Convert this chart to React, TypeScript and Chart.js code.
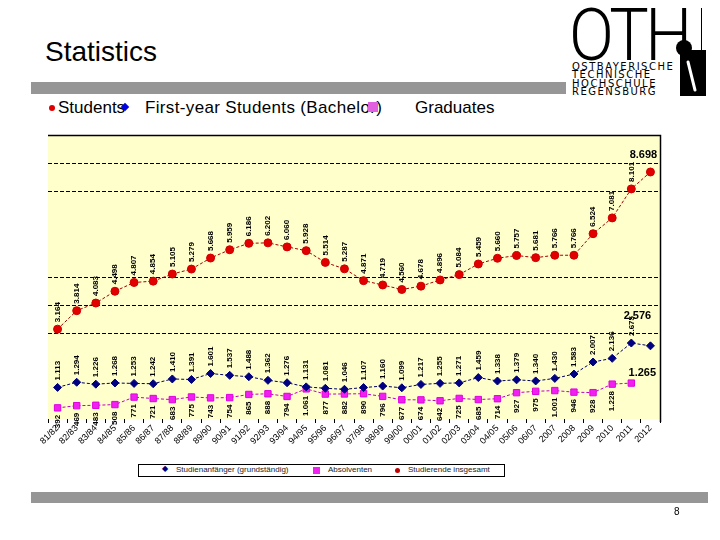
import React, { useEffect, useRef } from "react";
import { Chart, registerables } from "chart.js";
Chart.register(...registerables);

const categories = ["81/82","82/83","83/84","84/85","85/86","86/87","87/88","88/89","89/90","90/91","91/92","92/93","93/94","94/95","95/96","96/97","97/98","98/99","99/00","00/01","01/02","02/03","03/04","04/05","05/06","06/07","2007","2008","2009","2010","2011","2012"];

const studentsTotal = [3164,3814,4083,4498,4807,4854,5105,5279,5668,5959,6186,6202,6060,5928,5514,5287,4871,4719,4560,4678,4896,5084,5459,5660,5757,5681,5766,5766,6524,7081,8101,8698];
const firstYear = [1113,1294,1226,1268,1253,1242,1410,1391,1601,1537,1488,1362,1276,1131,1081,1046,1107,1160,1099,1217,1255,1271,1459,1338,1379,1340,1430,1583,2007,2136,2675,2576];
const graduates = [392,469,483,508,771,721,683,775,743,754,865,888,794,1061,877,882,890,796,677,674,642,725,685,714,927,975,1001,946,928,1228,1265,null];

const seriesNames = ["Studienanfänger (grundständig)", "Absolventen", "Studierende insgesamt"];
const hiddenGridValues = [0, 1000, 2000, 6000, 7000, 10000];

const FONT = "Arial, 'Liberation Sans', sans-serif";

function fmt(n: number): string {
  if (n >= 1000) {
    const r = n % 1000;
    return Math.floor(n / 1000) + "." + String(r).padStart(3, "0");
  }
  return String(n);
}

const framePlugin = {
  id: "frame",
  beforeDraw(chart: any) {
    const { ctx, chartArea: a } = chart;
    ctx.save();
    ctx.fillStyle = "#FFFFCC";
    ctx.fillRect(a.left, a.top, a.right - a.left, a.bottom - a.top);
    ctx.restore();
  },
  beforeDatasetsDraw(chart: any) {
    const { ctx, chartArea: a } = chart;
    ctx.save();
    ctx.strokeStyle = "#000";
    ctx.lineWidth = 1.5;
    ctx.beginPath();
    ctx.moveTo(a.left, a.top + 0.5);
    ctx.lineTo(a.right + 0.5, a.top + 0.5);
    ctx.lineTo(a.right + 0.5, a.bottom + 3);
    ctx.stroke();
    ctx.restore();
  },
};

const labelPlugin = {
  id: "valueLabels",
  afterDatasetsDraw(chart: any) {
    const { ctx } = chart;
    chart.data.datasets.forEach((ds: any, i: number) => {
      const meta = chart.getDatasetMeta(i);
      const pos = ds._labelPos;
      const last = ds.data.reduce((acc: number, v: any, idx: number) => (v != null ? idx : acc), -1);
      meta.data.forEach((el: any, j: number) => {
        const v = ds.data[j];
        if (v == null) return;
        ctx.save();
        ctx.fillStyle = "#000";
        if (j === last) {
          ctx.font = "bold 11px " + FONT;
          ctx.textAlign = "center";
          ctx.textBaseline = "middle";
          ctx.fillText(fmt(v), el.x + ds._lastDx, el.y + ds._lastDy);
        } else {
          ctx.font = "bold 8px " + FONT;
          ctx.textBaseline = "middle";
          if (pos === "above") {
            ctx.translate(el.x, el.y - 7);
            ctx.rotate(-Math.PI / 2);
            ctx.textAlign = "left";
          } else {
            ctx.translate(el.x, el.y + 7);
            ctx.rotate(-Math.PI / 2);
            ctx.textAlign = "right";
          }
          ctx.fillText(fmt(v), 0, 0);
        }
        ctx.restore();
      });
    });
  },
};

function ChartCanvas() {
  const ref = useRef<HTMLCanvasElement>(null);
  useEffect(() => {
    if (!ref.current) return;
    const chart = new Chart(ref.current, {
      type: "line",
      data: {
        labels: categories,
        datasets: [
          {
            label: seriesNames[2],
            data: studentsTotal,
            borderColor: "#A00000",
            backgroundColor: "#E00000",
            pointBackgroundColor: "#E00000",
            pointBorderColor: "#D00000",
            pointStyle: "circle",
            pointRadius: 4,
            borderWidth: 1,
            borderDash: [3, 2],
            _labelPos: "above",
            _lastDx: -7,
            _lastDy: -17,
          } as any,
          {
            label: seriesNames[0],
            data: firstYear,
            borderColor: "#000060",
            backgroundColor: "#000080",
            pointBackgroundColor: "#000080",
            pointBorderColor: "#000080",
            pointStyle: "rectRot",
            pointRadius: 4,
            borderWidth: 1,
            borderDash: [3, 2],
            _labelPos: "above",
            _lastDx: -13,
            _lastDy: -30,
          } as any,
          {
            label: seriesNames[1],
            data: graduates,
            borderColor: "#C000C0",
            backgroundColor: "#F020F0",
            pointBackgroundColor: "#F020F0",
            pointBorderColor: "#E000E0",
            pointStyle: "rect",
            pointRadius: 4.5,
            borderWidth: 1,
            borderDash: [3, 2],
            _labelPos: "below",
            _lastDx: 11,
            _lastDy: -10,
          } as any,
        ],
      },
      options: {
        responsive: false,
        animation: false,
        layout: { padding: { left: 48, right: 60, top: 135, bottom: 76 } },
        plugins: { legend: { display: false }, tooltip: { enabled: false } },
        scales: {
          x: {
            offset: true,
            grid: { display: true, drawOnChartArea: false, offset: true, tickLength: 4, color: "#000" },
            border: { display: false },
            ticks: {
              minRotation: 45,
              maxRotation: 45,
              autoSkip: false,
              padding: 0,
              color: "#000",
              font: { family: FONT, size: 9 },
            },
            afterFit(s: any) { s.height = 45; },
          },
          y: {
            min: 0,
            max: 10000,
            ticks: { display: false, stepSize: 1000 },
            border: { display: false, dash: [4, 2] },
            grid: {
              drawTicks: false,
              lineWidth: 1,
              color: (c: any) => (hiddenGridValues.includes(c.tick?.value) ? "rgba(0,0,0,0)" : "#000"),
            },
            afterFit(s: any) { s.width = 0; },
          },
        },
      },
      plugins: [framePlugin, labelPlugin],
    } as any);
    return () => chart.destroy();
  }, []);
  return (
    <canvas
      ref={ref}
      width={720}
      height={540}
      style={{ position: "absolute", left: 0, top: 0, width: 720, height: 540 }}
    />
  );
}

export default function App() {
  const abs = (s: React.CSSProperties): React.CSSProperties => ({ position: "absolute", ...s });
  return (
    <div style={abs({ left: 0, top: 0, width: 720, height: 540, background: "#fff", overflow: "hidden", fontFamily: FONT })}>
      <div style={abs({ left: 45, top: 36, fontSize: 28, color: "#000", lineHeight: "32px" })}>Statistics</div>
      <div style={abs({ left: 31, top: 82, width: 535, height: 12, background: "#969696" })} />

      <div style={abs({ left: 49, top: 105, width: 6, height: 6, borderRadius: 3, background: "#E00000" })} />
      <div style={abs({ left: 58, top: 98, fontSize: 17, lineHeight: "20px", whiteSpace: "pre" })}>Students</div>
      <div style={abs({ left: 122, top: 104, width: 6, height: 6, background: "#0000E0", transform: "rotate(45deg)" })} />
      <div style={abs({ left: 145, top: 98, fontSize: 17, letterSpacing: 0.35, lineHeight: "20px", whiteSpace: "pre" })}>First-year Students (Bachelor)</div>
      <div style={abs({ left: 368, top: 102, width: 10, height: 10, background: "#E060E0" })} />
      <div style={abs({ left: 415, top: 98, fontSize: 17, lineHeight: "20px", whiteSpace: "pre" })}>Graduates</div>

      {/* logo */}
      <div style={abs({ left: 569, top: 0, fontSize: 72, fontWeight: 300, fontFamily: "Roboto, 'DejaVu Sans', sans-serif", letterSpacing: -4, lineHeight: "72px", transform: "scaleX(0.92)", transformOrigin: "left top" })}>OTH</div>
      <div style={abs({ left: 572, top: 63, fontSize: 10, lineHeight: "8.4px", letterSpacing: 1.5, fontFamily: "'DejaVu Sans', sans-serif" })}>
        <div>OSTBAYERISCHE</div>
        <div>TECHNISCHE</div>
        <div>HOCHSCHULE</div>
        <div>REGENSBURG</div>
      </div>
      <div style={abs({ left: 701, top: 8, width: 1, height: 44, background: "#000" })} />
      <div style={abs({ left: 680, top: 50, width: 26, height: 46, background: "#000" })} />
      <div style={abs({ left: 676, top: 40, width: 16, height: 16, borderRadius: 8, background: "#000" })} />
      <div style={abs({ left: 690, top: 60, width: 3, height: 32, background: "#fff", transform: "rotate(-14deg)", borderRadius: 2 })} />

      <ChartCanvas />

      {/* chart legend */}
      <div style={abs({ left: 138, top: 464, width: 365, height: 11, border: "1px solid #000", background: "#fff", fontSize: 8, color: "#222" })}>
        <span style={abs({ left: 23, top: -1, color: "#000080", fontSize: 8 })}>◆</span>
        <span style={abs({ left: 37, top: 0 })}>{seriesNames[0]}</span>
        <span style={abs({ left: 174, top: 2, width: 7, height: 7, background: "#F020F0" })} />
        <span style={abs({ left: 189, top: 0 })}>{seriesNames[1]}</span>
        <span style={abs({ left: 256, top: 3, width: 5, height: 5, borderRadius: 3, background: "#C00000" })} />
        <span style={abs({ left: 269, top: 0 })}>{seriesNames[2]}</span>
      </div>

      <div style={abs({ left: 31, top: 492, width: 677, height: 11, background: "#969696" })} />
      <div style={abs({ left: 674, top: 506, fontSize: 10, color: "#000" })}>8</div>
    </div>
  );
}
